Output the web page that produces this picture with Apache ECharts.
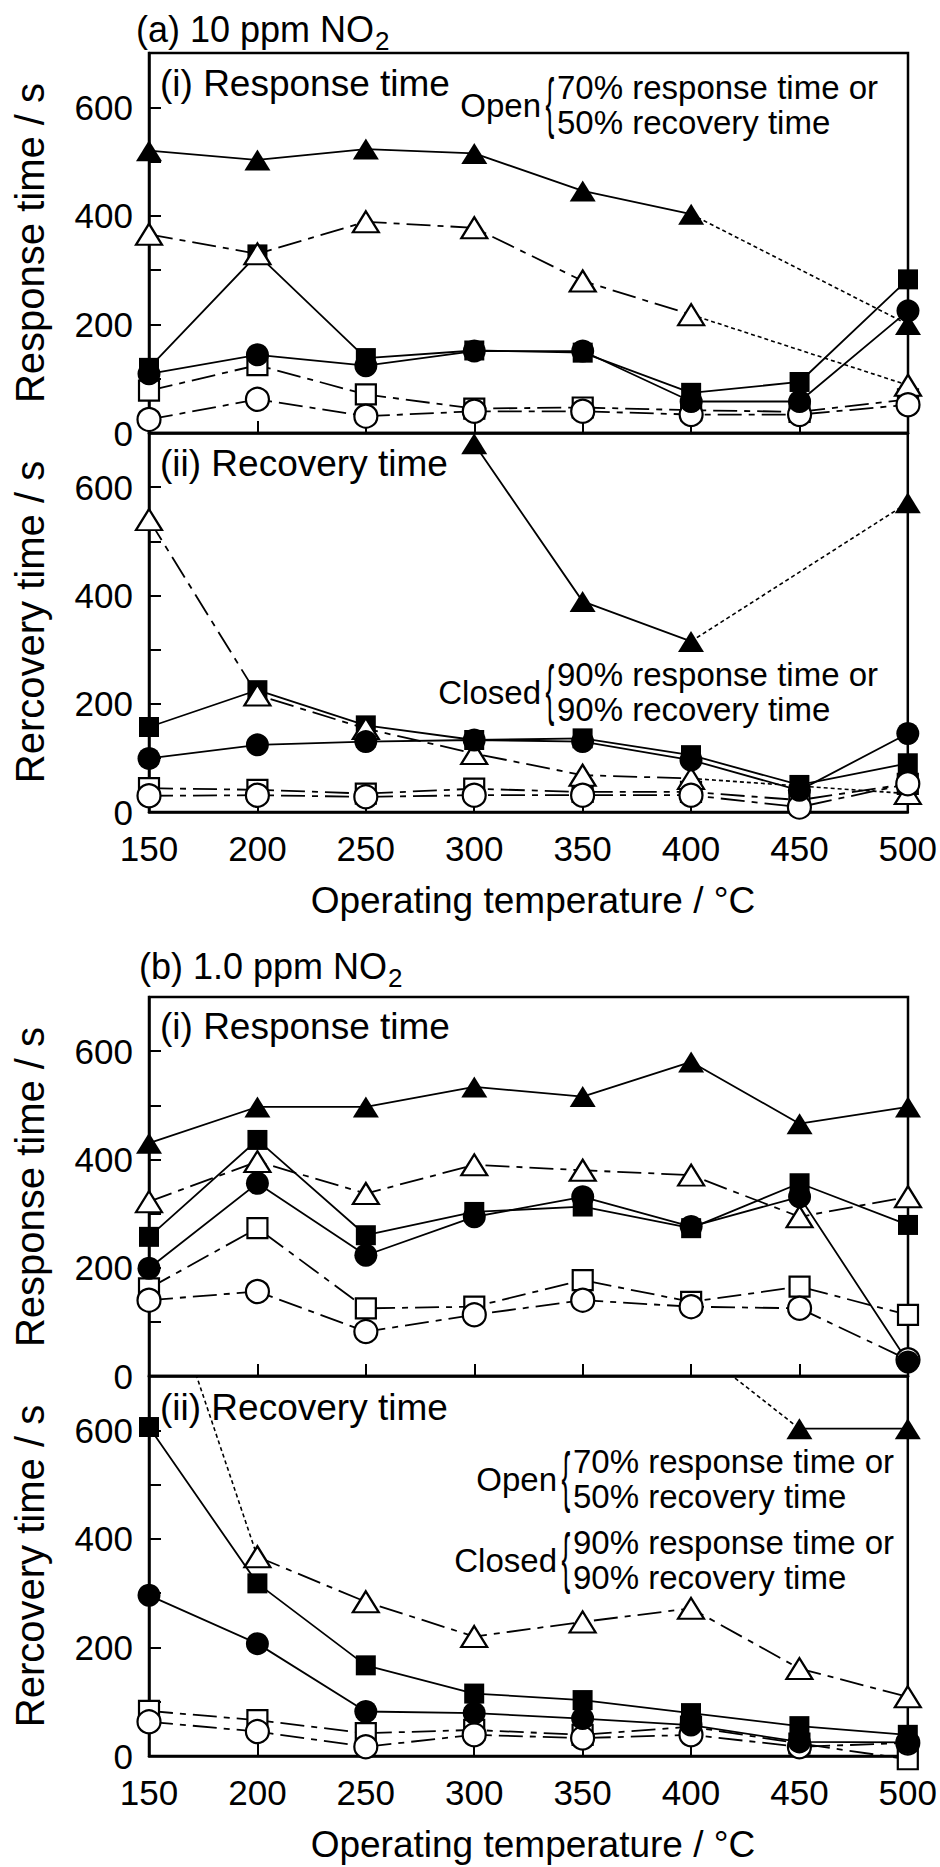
<!DOCTYPE html>
<html>
<head>
<meta charset="utf-8">
<title>Response and recovery time vs operating temperature</title>
<script src="https://cdn.jsdelivr.net/npm/echarts@6/dist/echarts.min.js"></script>
<style>
  html, body { margin: 0; padding: 0; background: #fff; }
  #chart { width: 940px; height: 1867px; }
</style>
</head>
<body>
<div id="chart"></div>
<script>
// operating temperature / degC
const temps = [150, 200, 250, 300, 350, 400, 450, 500]
const yTickLabels = [0, 200, 400, 600]

// (a) 10 ppm NO2, (i) response time / s
const aRespTriFilled = [520, 503, 523, 515, 446, 403, null, 200]
const aRespTriOpen = [366, 330, 389, 378, 280, 218, null, 88]
const aRespSqFilled = [120, 329, 138, 152, 148, 74, 94, 283]
const aRespCircFilled = [109, 144, 124, 151, 151, 58, 58, 225]
const aRespSqOpen = [78, 125, 71, 45, 47, 42, 39, 62]
const aRespCircOpen = [25, 62, 31, 40, 40, 34, 34, 52]

// (a) 10 ppm NO2, (ii) recovery time / s
const aRecTriFilled = [null, null, null, 680, 389, 315, null, 571]
const aRecTriOpen = [540, 216, 154, 108, 68, 62, null, 34]
const aRecSqFilled = [157, 225, 160, 133, 136, 105, 50, 90]
const aRecCircFilled = [99, 124, 130, 133, 130, 96, 40, 145]
const aRecSqOpen = [44, 41, 34, 43, 37, 37, 22, 52]
const aRecCircOpen = [30, 31, 28, 31, 31, 31, 9, 52]

// (b) 1.0 ppm NO2, (i) response time / s
const bRespTriFilled = [430, 497, 497, 534, 516, 580, 466, 497]
const bRespTriOpen = [322, 396, 337, 390, 380, 371, 294, 331]
const bRespSqFilled = [257, 436, 260, 303, 313, 273, 356, 279]
const bRespCircFilled = [199, 356, 223, 294, 331, 276, 331, 26]
const bRespSqOpen = [162, 273, 125, 128, 177, 137, 165, 113]
const bRespCircOpen = [140, 156, 82, 113, 140, 128, 125, 30]

// (b) 1.0 ppm NO2, (ii) recovery time / s  (960 and 760 run off the top)
const bRecTriFilled = [null, null, null, null, null, 760, 603, 603]
const bRecTriOpen = [960, 367, 284, 220, 247, 272, 161, 109]
const bRecSqFilled = [606, 318, 167, 115, 103, 79, 55, 39]
const bRecCircFilled = [296, 207, 82, 79, 69, 57, 26, 25]
const bRecSqOpen = [83, 66, 42, 48, 39, 54, 23, -6]
const bRecCircOpen = [63, 45, 17, 39, 33, 39, 17, 24]

// segments drawn dotted (index pairs into temps)
const aRespDotted = { triFilled: [[5, 7]], triOpen: [[5, 7]] }
const aRecDotted = { triFilled: [[5, 7]], triOpen: [[5, 7]] }
const bRespDotted = {}
const bRecDotted = { triFilled: [[5, 6]], triOpen: [[0, 1]] }

const FONT = '"Liberation Sans", Arial, Helvetica, sans-serif'
const DASH_DOT = [24, 7, 6, 7]
const DOTTED = [4, 3]

const styles = {
  sqOpen: { symbol: 'rect', size: 20, fill: '#fff', line: DASH_DOT },
  sqFilled: { symbol: 'rect', size: 20, fill: '#000', line: 'solid' },
  triOpen: { symbol: 'triangle', size: [26, 21], fill: '#fff', line: DASH_DOT },
  circOpen: { symbol: 'circle', size: 23, fill: '#fff', line: DASH_DOT },
  circFilled: { symbol: 'circle', size: 23, fill: '#000', line: 'solid' },
  triFilled: { symbol: 'triangle', size: [26, 21], fill: '#000', line: 'solid' }
}

const grids = [
  { left: 149, width: 759, top: 53, height: 380 },
  { left: 149, width: 759, top: 433, height: 379 },
  { left: 149, width: 759, top: 997, height: 379 },
  { left: 149, width: 759, top: 1376, height: 380 }
]

const panels = [
  { sets: { sqOpen: aRespSqOpen, sqFilled: aRespSqFilled, triOpen: aRespTriOpen, circOpen: aRespCircOpen, circFilled: aRespCircFilled, triFilled: aRespTriFilled }, dotted: aRespDotted },
  { sets: { sqOpen: aRecSqOpen, sqFilled: aRecSqFilled, triOpen: aRecTriOpen, circOpen: aRecCircOpen, circFilled: aRecCircFilled, triFilled: aRecTriFilled }, dotted: aRecDotted },
  { sets: { sqOpen: bRespSqOpen, sqFilled: bRespSqFilled, triOpen: bRespTriOpen, circOpen: bRespCircOpen, circFilled: bRespCircFilled, triFilled: bRespTriFilled }, dotted: bRespDotted },
  { sets: { sqOpen: bRecSqOpen, sqFilled: bRecSqFilled, triOpen: bRecTriOpen, circOpen: bRecCircOpen, circFilled: bRecCircFilled, triFilled: bRecTriFilled }, dotted: bRecDotted }
]

const series = []
panels.forEach((p, g) => {
  Object.keys(p.sets).forEach(key => {
    const vals = p.sets[key]
    const st = styles[key]
    const pairs = p.dotted[key] || []
    const data = temps.map((t, i) => [t, vals[i] == null ? '-' : vals[i]])
    pairs.forEach(([i, j]) => data.push([(temps[i] + temps[j]) / 2, '-']))
    data.sort((a, b) => a[0] - b[0])
    pairs.forEach(([i, j]) => {
      series.push({
        type: 'line', xAxisIndex: g, yAxisIndex: g, silent: true, clip: true,
        symbol: 'none', z: 1,
        lineStyle: { color: '#000', width: 1.6, type: DOTTED },
        data: [[temps[i], vals[i]], [temps[j], vals[j]]]
      })
    })
    series.push({
      type: 'line', xAxisIndex: g, yAxisIndex: g, silent: true,
      clip: key.startsWith('tri'),
      symbol: st.symbol, symbolSize: st.size, showAllSymbol: true,
      connectNulls: false, z: 2,
      lineStyle: { color: '#000', width: 1.8, type: st.line },
      itemStyle: { color: st.fill, borderColor: '#000', borderWidth: st.fill === '#fff' ? 2.2 : 0 },
      emphasis: { disabled: true },
      data
    })
  })
})

const xAxes = grids.map((gr, g) => ({
  type: 'value', gridIndex: g, min: 150, max: 500, interval: 50,
  axisLine: { show: true, onZero: false, lineStyle: { color: '#000', width: 2.5 } },
  axisTick: { show: true, inside: true, length: 12, lineStyle: { color: '#000', width: 2 } },
  axisLabel: { show: g % 2 === 1, color: '#000', fontSize: 35, fontFamily: FONT, margin: 19 },
  splitLine: { show: false }
}))

const yAxes = grids.map((gr, g) => ({
  type: 'value', gridIndex: g, min: 0, max: 700, interval: 100,
  axisLine: { show: true, lineStyle: { color: '#000', width: 2.5 } },
  axisTick: { show: true, inside: true, length: 12, lineStyle: { color: '#000', width: 2 } },
  axisLabel: {
    color: '#000', fontSize: 35, fontFamily: FONT, margin: 16,
    formatter: v => (yTickLabels.includes(v) ? String(v) : '')
  },
  splitLine: { show: false }
}))

// helper to place the subscript right after a title
const ctx = document.createElement('canvas').getContext('2d')
function textWidth(str, size) {
  ctx.font = size + 'px ' + FONT
  return ctx.measureText(str).width
}

function txt(str, x, y, size, align, extra) {
  return Object.assign({
    type: 'text', x, y, silent: true,
    style: { text: str, fontSize: size, fontFamily: FONT, fill: '#000', align: align || 'left', verticalAlign: 'middle' }
  }, extra || {})
}

function brace(x, y) {
  return txt('{', x, y, 66, 'center', { scaleX: 0.4 })
}

function note(word, wordRight, textLeft, yMid, line1, line2) {
  return [
    txt(word, wordRight, yMid, 33, 'right'),
    brace(wordRight + 9, yMid - 2),
    txt(line1, textLeft, yMid - 18, 33, 'left'),
    txt(line2, textLeft, yMid + 17, 33, 'left')
  ]
}

const titleA = '(a) 10 ppm NO'
const titleB = '(b) 1.0 ppm NO'
const graphics = [
  txt(titleA, 136, 29, 36),
  txt('2', 136 + textWidth(titleA, 36) + 1, 41, 26),
  txt(titleB, 139, 966, 36),
  txt('2', 139 + textWidth(titleB, 36) + 1, 978, 26),
  txt('(i) Response time', 160, 83, 37),
  txt('(ii) Recovery time', 160, 463, 37),
  txt('(i) Response time', 160, 1026, 37),
  txt('(ii) Recovery time', 160, 1407, 37),
  txt('Response time / s', 30, 243, 40, 'center', { rotation: Math.PI / 2 }),
  txt('Rercovery time / s', 30, 622, 40, 'center', { rotation: Math.PI / 2 }),
  txt('Response time / s', 30, 1187, 40, 'center', { rotation: Math.PI / 2 }),
  txt('Rercovery time / s', 30, 1566, 40, 'center', { rotation: Math.PI / 2 }),
  txt('Operating temperature / \u00b0C', 533, 900, 37, 'center'),
  txt('Operating temperature / \u00b0C', 533, 1844, 37, 'center'),
  ...note('Open', 541, 557, 105, '70% response time or', '50% recovery time'),
  ...note('Closed', 541, 557, 692, '90% response time or', '90% recovery time'),
  ...note('Open', 557, 573, 1479, '70% response time or', '50% recovery time'),
  ...note('Closed', 557, 573, 1560, '90% response time or', '90% recovery time')
]

const chart = echarts.init(document.getElementById('chart'), null, { renderer: 'svg' })
chart.setOption({
  animation: false,
  backgroundColor: '#fff',
  textStyle: { fontFamily: FONT },
  grid: grids.map(gr => Object.assign({ show: true, borderColor: '#000', borderWidth: 2.5, backgroundColor: 'transparent' }, gr)),
  xAxis: xAxes,
  yAxis: yAxes,
  series,
  graphic: graphics
})
</script>
</body>
</html>
